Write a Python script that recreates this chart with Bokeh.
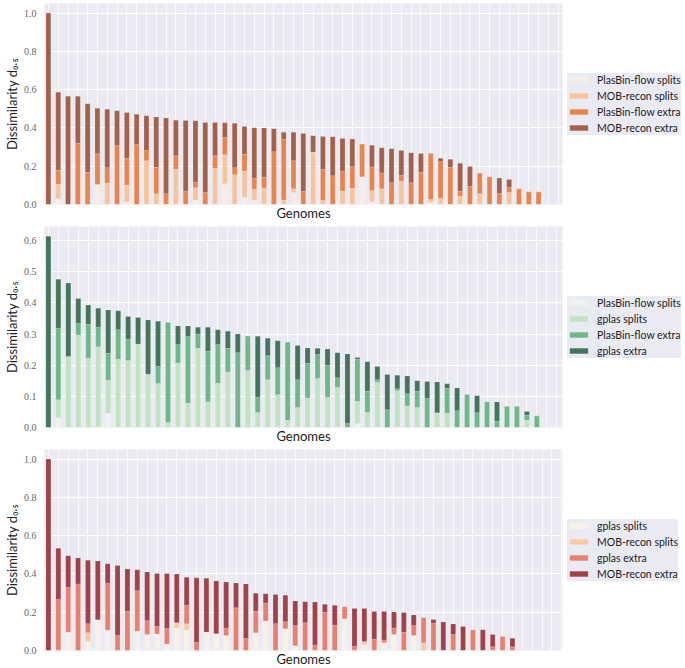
from bokeh.plotting import figure
from bokeh.layouts import column
from bokeh.models import (ColumnDataSource, Range1d, FixedTicker, Legend, LegendItem,
                          PrintfTickFormatter)
from bokeh.embed import file_html
from bokeh.resources import INLINE

# ---------------- Panel 1: PlasBin-flow vs MOB-recon ----------------
p1_labels = ["PlasBin-flow splits", "MOB-recon splits", "PlasBin-flow extra", "MOB-recon extra"]
p1_colors = ["#f8ede6", "#f6c49d", "#e9844c", "#a2614b"]
p1_a = [0, .03, 0, 0, 0, .104, 0, 0, .014, 0, 0, 0, 0, 0, 0, .024, 0, 0, .109, 0, .036, .022, 0, 0, 0, .063,
        0, 0, 0, 0, 0, 0, .145, .014, 0, 0, 0, 0, 0, .01, 0, 0, 0, 0, 0, 0, 0, 0, 0, 0, 0]
p1_b = [0, .077, 0, 0, 0, 0, .112, 0, .088, 0, .228, .056, 0, .185, 0, .063, 0, .189, .151, .156, .139, .058, .085, 0, .024, .019,
        0, .274, .022, 0, .071, .085, 0, .059, .082, 0, .122, 0, 0, .016, .031, 0, .043, 0, .056, 0, 0, .063, 0, 0, 0]
p1_c = [0, .072, 0, .32, .168, .161, .08, .308, .138, .313, .054, .138, .056, .07, .071, .03, .063, .066, .09, .036, .087, .058, .058, .276, .318, .146,
        .068, 0, .162, .15, .102, .112, .171, .123, .083, .114, .031, .114, .168, .236, .192, .194, .027, .094, .109, .145, .058, .027, .082, .066, .066]
p1_d = [1.0, .408, .566, .246, .358, .238, .306, .182, .241, .158, .181, .263, .396, .185, .368, .32, .366, .174, .077, .233, .146, .263, .257, .12, .036, .15,
        .303, .085, .171, .204, .172, .145, 0, .114, .131, .177, .129, .156, .099, .005, .018, .042, .146, .105, 0, 0, .08, .041, 0, 0, 0]

# ---------------- Panel 2: PlasBin-flow vs gplas ----------------
p2_labels = ["PlasBin-flow splits", "gplas splits", "PlasBin-flow extra", "gplas extra"]
p2_colors = ["#eff3ef", "#c0e3c0", "#6cb886", "#44745a"]
p2_a = [0, .031, 0, 0, 0, 0, .046, 0, 0, 0, 0, 0, 0, 0, 0, 0, 0, 0, 0, 0, 0, 0, 0, 0, 0, 0,
        0, 0, 0, 0, 0, .0125, 0, 0, 0, 0, 0, 0, 0, 0, 0, 0, 0, 0, 0, 0, 0, 0, 0, 0]
p2_b = [0, .058, .228, .297, .222, .259, .106, .219, .215, .268, .171, .141, .016, .207, .078, .254, .083, .142, .178, 0, .184, .048, .153, .105, .024, .064,
        .095, .157, .097, .128, 0, .0715, .048, .145, 0, .118, .069, .064, 0, .047, .046, 0, 0, 0, 0, 0, 0, 0, .024, 0]
p2_c = [0, .23, 0, .037, .109, .063, .086, .095, .069, 0, 0, .055, .322, .059, .214, .046, .162, .124, .076, .24, .11, .049, .077, .087, .25, .089,
        .111, .077, .103, .032, .0125, .135, .068, .008, .057, .006, .039, .052, .094, 0, .08, .054, .107, .047, .083, .02, .068, .068, .015, .0375]
p2_d = [.614, .157, .236, .08, .062, .061, .139, .061, .072, .085, .174, .145, 0, .06, .034, .022, .077, .048, .055, .06, 0, .196, .056, .086, 0, .11,
        .049, .02, .052, .08, .2235, .006, .095, .043, .113, .044, .057, .034, .054, .099, .014, .073, 0, .055, 0, .062, 0, 0, .012, 0]

# ---------------- Panel 3: gplas vs MOB-recon ----------------
p3_labels = ["gplas splits", "MOB-recon splits", "gplas extra", "MOB-recon extra"]
p3_colors = ["#f8f1ea", "#f8ca9e", "#e8806e", "#a04349"]
p3_a = [0, 0, .095, 0, .047, .16, .106, 0, 0, .1, .084, .086, .034, .117, .106, 0, .096, .088, .079, 0, 0, .093, .154, 0, .113, .025,
        0, 0, 0, 0, .166, 0, .03, 0, .04, .084, 0, .079, 0, 0, 0, 0, 0, 0, 0, 0, 0, 0]
p3_b = [0, 0, 0, 0, .046, 0, 0, 0, 0, 0, 0, 0, 0, .028, .034, 0, 0, 0, 0, 0, 0, 0, 0, 0, 0, 0,
        0, 0, 0, 0, 0, 0, .017, 0, 0, 0, 0, 0, .04, 0, 0, 0, 0, 0, 0, 0, 0, 0]
p3_c = [0, .267, .234, .348, .047, 0, .244, .079, .206, .2125, .071, .039, .081, 0, .096, .042, 0, 0, .039, .223, .0625, .113, .093, .14, .037, .105,
        .145, .029, .201, .132, .064, .022, 0, .059, .014, .033, .095, .051, .132, .142, 0, .083, 0, .108, 0, .019, .074, .019]
p3_d = [1.0, .267, .166, .135, .331, .308, .103, .365, .22, .1095, .255, .277, .287, .255, .146, .338, .282, .275, .24, .13, .2855, .093, .049, .152, .139, .128,
        .11, .224, .041, .104, 0, .198, .173, .145, .15, .084, .103, .056, 0, .02, .149, .0555, .125, 0, .108, .064, 0, .045]

y_ticks_1 = [0.0, 0.2, 0.4, 0.6, 0.8, 1.0]
y_ticks_2 = [0.0, 0.1, 0.2, 0.3, 0.4, 0.5, 0.6]
y_ticks_3 = [0.0, 0.2, 0.4, 0.6, 0.8, 1.0]

panels = [
    (p1_labels, p1_colors, [p1_a, p1_b, p1_c, p1_d], y_ticks_1, (-0.4, 52.44), 1.05),
    (p2_labels, p2_colors, [p2_a, p2_b, p2_c, p2_d], y_ticks_2, (-0.39, 51.57), 0.645),
    (p3_labels, p3_colors, [p3_a, p3_b, p3_c, p3_d], y_ticks_3, (-0.4, 52.07), 1.05),
]

figs = []
for labels, colors, series, yt, xr, ymax in panels:
    n = len(series[0])
    src = ColumnDataSource(dict(x=list(range(n)), a=series[0], b=series[1], c=series[2], d=series[3]))
    p = figure(frame_width=518, frame_height=201, output_backend="svg", toolbar_location=None,
               x_range=Range1d(*xr), y_range=Range1d(0, ymax),
               min_border_top=3, min_border_bottom=4, min_border_left=0, min_border_right=0)
    p.background_fill_color = "#eaeaf2"
    p.border_fill_color = "white"
    p.outline_line_color = None
    rs = p.vbar_stack(["a", "b", "c", "d"], x="x", width=0.5, color=colors, source=src,
                      line_color="white", line_alpha=0.3, line_width=0.5)
    # grids
    p.xgrid.ticker = FixedTicker(ticks=list(range(0, 54)))
    p.xgrid.grid_line_color = "white"
    p.xgrid.grid_line_alpha = 0.75
    p.xgrid.grid_line_width = 1
    p.ygrid.ticker = FixedTicker(ticks=yt)
    p.ygrid.grid_line_color = "white"
    p.ygrid.grid_line_width = 1
    # axes
    p.yaxis.ticker = FixedTicker(ticks=yt)
    p.yaxis.formatter = PrintfTickFormatter(format="%.1f")
    p.yaxis.axis_label = "Dissimilarity d₀.₅"
    p.yaxis.axis_label_text_font = "Lato"
    p.yaxis.axis_label_text_font_size = "13px"
    p.yaxis.axis_label_text_font_style = "normal"
    p.yaxis.axis_label_text_color = "#222222"
    p.yaxis.axis_label_standoff = 1
    p.yaxis.major_label_text_font = "Liberation Serif"
    p.yaxis.major_label_text_font_size = "10px"
    p.yaxis.major_label_text_color = "#666666"
    p.yaxis.major_label_standoff = 2
    p.yaxis.axis_line_color = None
    p.yaxis.major_tick_line_color = None
    p.yaxis.minor_tick_line_color = None

    p.xaxis.ticker = FixedTicker(ticks=[])
    p.xaxis.axis_label = "Genomes"
    p.xaxis.axis_label_text_font = "Lato"
    p.xaxis.axis_label_text_font_size = "13px"
    p.xaxis.axis_label_text_font_style = "normal"
    p.xaxis.axis_label_text_color = "#222222"
    p.xaxis.axis_label_standoff = 0
    p.xaxis.major_label_text_font_size = "0px"
    p.xaxis.axis_line_color = None
    p.xaxis.major_tick_line_color = None
    p.xaxis.minor_tick_line_color = None

    legend = Legend(items=[LegendItem(label=l, renderers=[r]) for l, r in zip(labels, rs)],
                    location="left")
    legend.background_fill_color = "#eaeaf2"
    legend.background_fill_alpha = 1.0
    legend.border_line_color = None
    legend.label_text_font = "Lato"
    legend.label_text_font_size = "10.5px"
    legend.label_text_color = "#222222"
    legend.glyph_width = 23
    legend.glyph_height = 7
    legend.label_height = 14
    legend.label_standoff = 7
    legend.spacing = 2
    legend.padding = 4
    legend.margin = 5
    p.add_layout(legend, "right")
    figs.append(p)

layout = column(*figs, spacing=0)
open("out.html", "w").write(file_html(layout, INLINE))
